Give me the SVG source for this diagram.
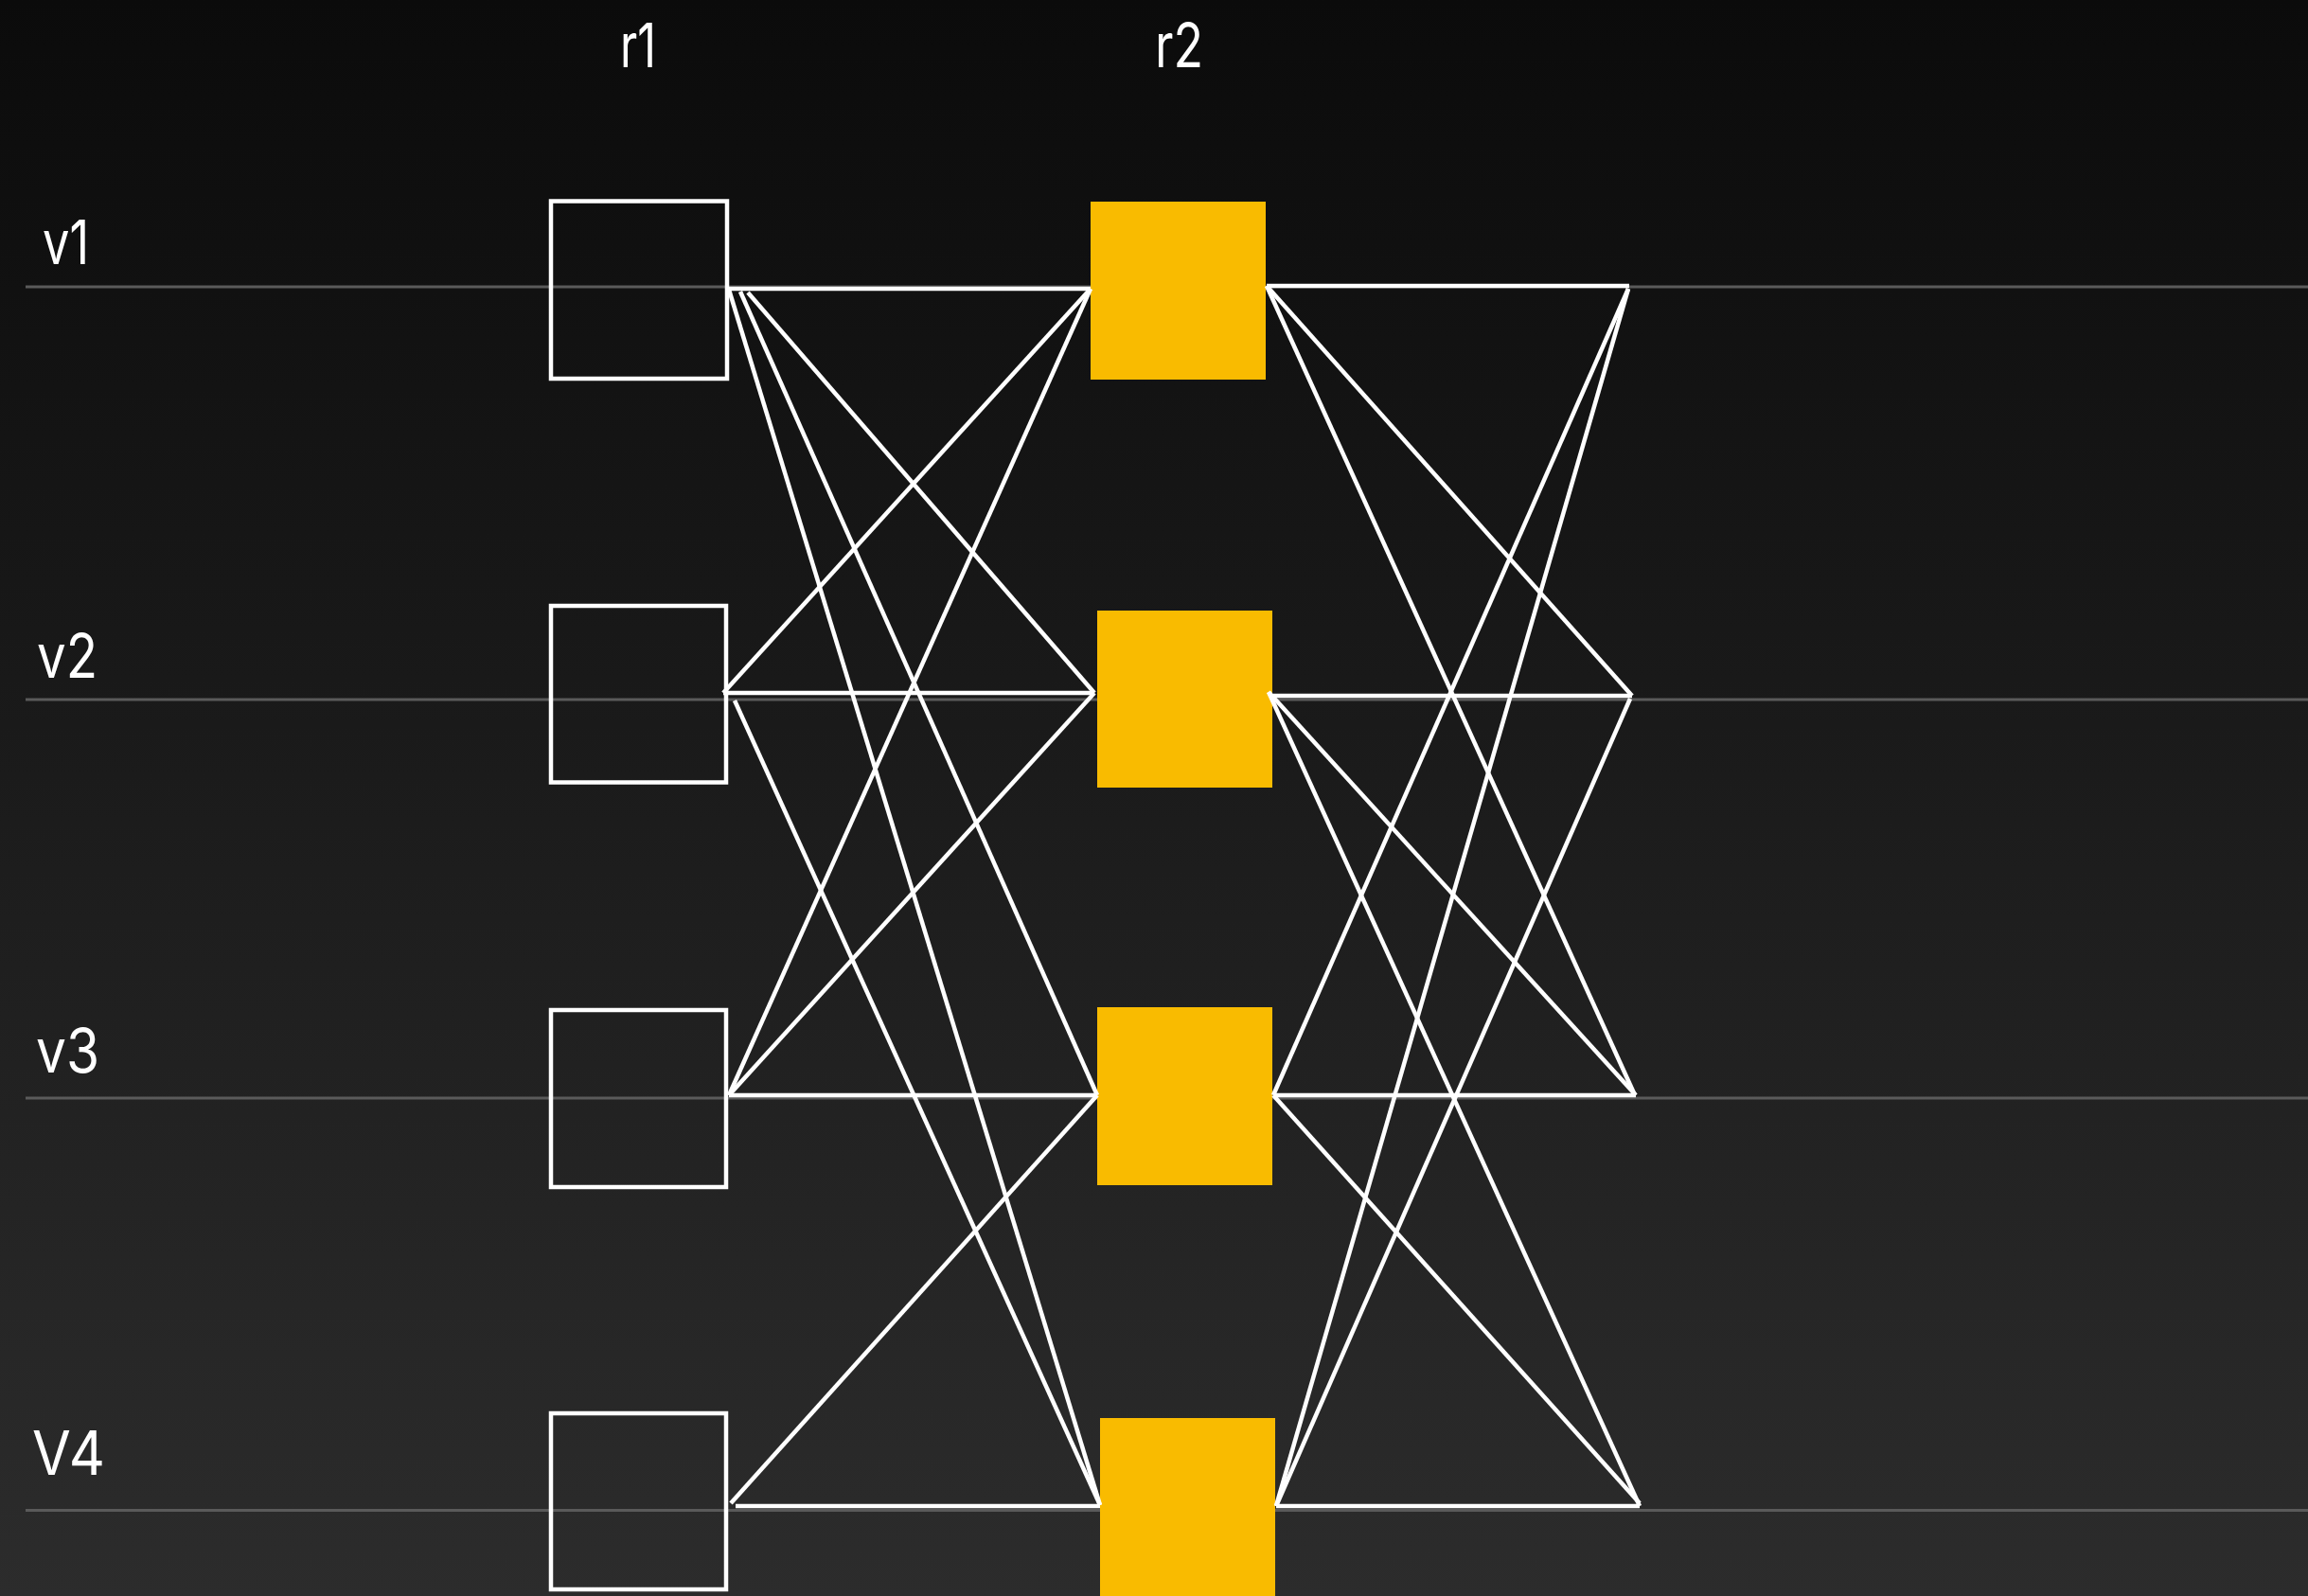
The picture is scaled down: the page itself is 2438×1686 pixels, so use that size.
<svg xmlns="http://www.w3.org/2000/svg" width="2438" height="1686" viewBox="0 0 2438 1686">
  <defs>
    <linearGradient id="bg" x1="0" y1="0" x2="0" y2="1">
      <stop offset="0" stop-color="#0b0b0b"/>
      <stop offset="1" stop-color="#2c2c2c"/>
    </linearGradient>
  </defs>
  <style>
    .lane { stroke: #5a5a5a; stroke-width: 3; fill: none; }
    .hollow { fill: none; stroke: #ffffff; stroke-width: 4.5; }
    .solid { fill: #f9bb00; stroke: none; }
    .edge { stroke: #ffffff; stroke-width: 4.5; fill: none; }
    .lbl { font-family: Inter, "Liberation Sans", sans-serif; font-size: 64px; fill: #ffffff; }
  </style>
  <rect x="0" y="0" width="2438" height="1686" fill="url(#bg)"/>

  <g id="lanes">
    <line class="lane" x1="27" y1="303" x2="2438" y2="303"/>
    <line class="lane" x1="27" y1="739" x2="2438" y2="739"/>
    <line class="lane" x1="27" y1="1160" x2="2438" y2="1160"/>
    <line class="lane" x1="27" y1="1595.5" x2="2438" y2="1595.5"/>
  </g>

  <g id="labels">
    <text class="lbl" x="655" y="71" textLength="38" lengthAdjust="spacingAndGlyphs">r1</text>
    <text class="lbl" x="1220" y="71" textLength="51" lengthAdjust="spacingAndGlyphs">r2</text>
    <text class="lbl" x="45" y="279" textLength="49" lengthAdjust="spacingAndGlyphs">v1</text>
    <text class="lbl" x="39" y="716" textLength="64" lengthAdjust="spacingAndGlyphs">v2</text>
    <text class="lbl" x="38" y="1133" textLength="67" lengthAdjust="spacingAndGlyphs">v3</text>
    <text class="lbl" x="34" y="1558" textLength="77" lengthAdjust="spacingAndGlyphs">V4</text>
  </g>

  <g id="r1-v1"><rect class="hollow" x="582" y="212.5" width="186" height="187.5"/></g>
  <g id="r1-v2"><rect class="hollow" x="582" y="640" width="185" height="186.5"/></g>
  <g id="r1-v3"><rect class="hollow" x="582" y="1067" width="185" height="187"/></g>
  <g id="r1-v4"><rect class="hollow" x="582" y="1493" width="185" height="186"/></g>

  <g id="r2-v1"><rect class="solid" x="1152" y="213" width="185" height="188"/></g>
  <g id="r2-v2"><rect class="solid" x="1159" y="645" width="185" height="187"/></g>
  <g id="r2-v3"><rect class="solid" x="1159" y="1064" width="185" height="188"/></g>
  <g id="r2-v4"><rect class="solid" x="1162" y="1498" width="185" height="188"/></g>

  <g id="connectors">
    <line class="edge" x1="770" y1="305" x2="1152" y2="305"/>
    <line class="edge" x1="790" y1="309" x2="1156" y2="732"/>
    <line class="edge" x1="782" y1="308" x2="1159" y2="1157"/>
    <line class="edge" x1="770" y1="306" x2="1162" y2="1590"/>
    <line class="edge" x1="764" y1="732" x2="1152" y2="305"/>
    <line class="edge" x1="764" y1="732" x2="1156" y2="732"/>
    <line class="edge" x1="776" y1="740" x2="1162" y2="1590"/>
    <line class="edge" x1="770" y1="1157" x2="1152" y2="305"/>
    <line class="edge" x1="770" y1="1157" x2="1156" y2="732"/>
    <line class="edge" x1="770" y1="1157" x2="1159" y2="1157"/>
    <line class="edge" x1="772" y1="1588" x2="1159" y2="1157"/>
    <line class="edge" x1="777" y1="1591" x2="1162" y2="1591"/>

    <line class="edge" x1="1338" y1="302" x2="1721" y2="302"/>
    <line class="edge" x1="1338" y1="302" x2="1724" y2="735"/>
    <line class="edge" x1="1338" y1="302" x2="1727" y2="1157"/>
    <line class="edge" x1="1345" y1="735" x2="1724" y2="735"/>
    <line class="edge" x1="1340" y1="731" x2="1728" y2="1157"/>
    <line class="edge" x1="1340" y1="731" x2="1732" y2="1591"/>
    <line class="edge" x1="1345" y1="1157" x2="1720" y2="305"/>
    <line class="edge" x1="1345" y1="1157" x2="1728" y2="1157"/>
    <line class="edge" x1="1345" y1="1157" x2="1732" y2="1588"/>
    <line class="edge" x1="1348" y1="1591" x2="1720" y2="305"/>
    <line class="edge" x1="1348" y1="1591" x2="1722" y2="738"/>
    <line class="edge" x1="1348" y1="1591" x2="1732" y2="1591"/>
  </g>
</svg>
